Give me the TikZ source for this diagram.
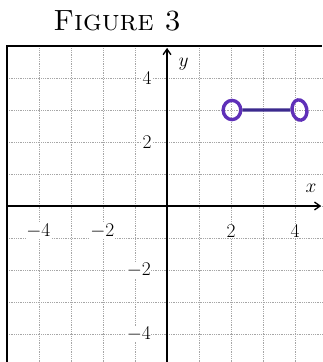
\documentclass[tikz,border=0pt]{standalone}
\usetikzlibrary{arrows.meta,shapes.geometric}
\definecolor{penpurple}{HTML}{5F30B8}
\definecolor{pendark}{HTML}{3B2A8E}
\begin{document}
\begin{tikzpicture}[x=1cm,y=1cm,
  gridline/.style={gray!70, line width=0.6pt, densely dotted},
  axisline/.style={black, line width=1.2pt, -{Straight Barb[length=5pt,width=7pt]}},
  framestyle/.style={black, line width=1.4pt},
  ticklabel/.style={font=\fontsize{17}{19}\selectfont, fill=white, inner sep=0.5pt},
  pen/.style={draw=penpurple, line width=3pt},
  ]
\useasboundingbox (-5.219,-4.875) rectangle (4.844,6.4375);
% grid
\foreach \i in {-4,...,4} {\draw[gridline] (\i,-4.875) -- (\i,5);}
\foreach \j in {-4,...,4} {\draw[gridline] (-5,\j) -- (4.844,\j);}
% frame
\draw[framestyle] (-5,-4.875) -- (-5,5) -- (4.844,5);
% axes
\coordinate (xl) at (-5,0);
\coordinate (xr) at (4.82,0);
\coordinate (yb) at (0,-4.875);
\coordinate (yt) at (0,4.94);
\draw[axisline] (xl) -- (xr);
\draw[axisline] (yb) -- (yt);
\node[font=\fontsize{17}{19}\selectfont] (xlab) at (4.5,0.55) {$x$};
\node[font=\fontsize{17}{19}\selectfont] (ylab) at (0.52,4.42) {$y$};
% tick labels
\node[ticklabel] (xm4) at (-4.02,-0.78) {$-4$};
\node[ticklabel] (xm2) at (-2.02,-0.78) {$-2$};
\node[ticklabel] (xp2) at (2,-0.78) {$2$};
\node[ticklabel] (xp4) at (4,-0.78) {$4$};
\node[ticklabel, anchor=east] (y4) at (-0.46,4) {$4$};
\node[ticklabel, anchor=east] (y2) at (-0.46,2) {$2$};
\node[ticklabel, anchor=east] (ym2) at (-0.48,-2) {$-2$};
\node[ticklabel, anchor=east] (ym4) at (-0.48,-4) {$-4$};
% title
\node[font=\fontsize{26}{28}\selectfont] (title) at (-1.56,5.77) {\textsc{Figure 3}};
% purple segment
\node[pen, ellipse, minimum width=0.55cm, minimum height=0.6cm, inner sep=0pt] (pa) at (2.03,3.0) {};
\node[pen, ellipse, minimum width=0.46cm, minimum height=0.64cm, inner sep=0pt, rotate=10] (pb) at (4.14,3.0) {};
\draw[draw=pendark, line width=3pt] (pa) -- (pb);
\end{tikzpicture}
\end{document}
